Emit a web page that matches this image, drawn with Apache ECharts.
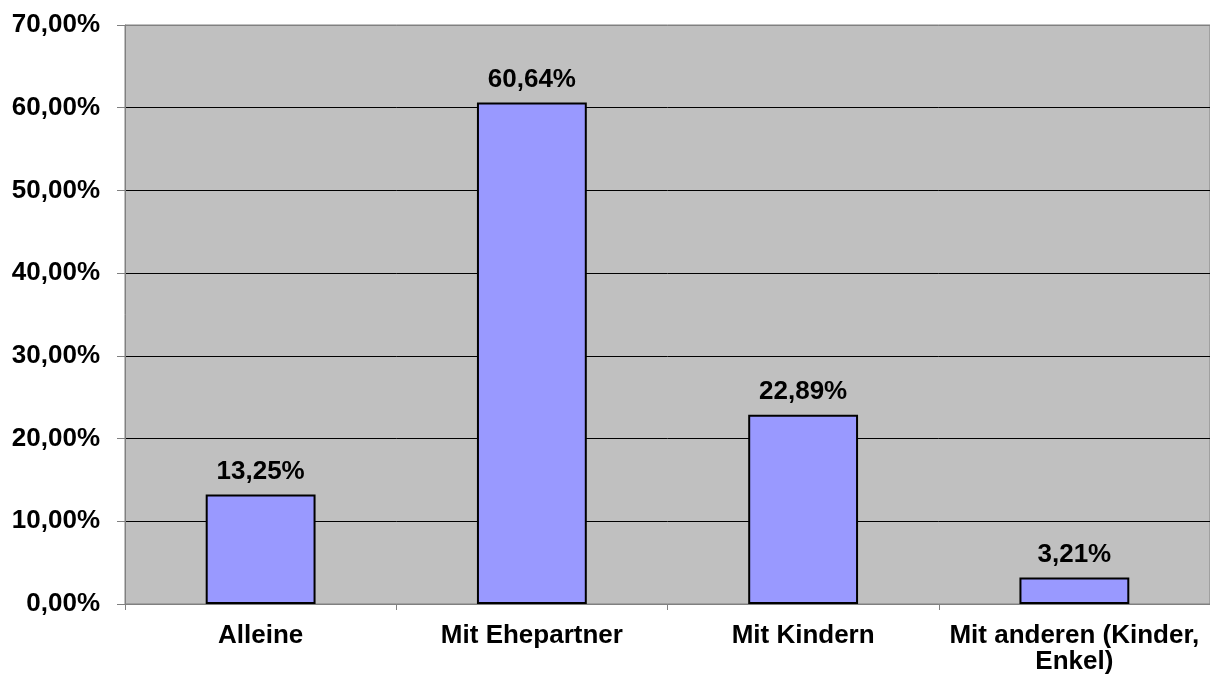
<!DOCTYPE html>
<html>
<head>
<meta charset="utf-8">
<script src="https://cdn.jsdelivr.net/npm/echarts@6/dist/echarts.min.js"></script>
<style>html,body{margin:0;padding:0;background:#fff}#c{width:1210px;height:679px}</style>
</head>
<body>
<div id="c"></div>
<script>
var categories = ['Alleine', 'Mit Ehepartner', 'Mit Kindern', 'Mit anderen (Kinder,\nEnkel)'];
var values = [13.25, 60.64, 22.89, 3.21];
var yTicks = [0, 10, 20, 30, 40, 50, 60, 70];

var font = 'Liberation Sans, Arial, sans-serif';
function fmt(v) { return v.toFixed(2).replace('.', ',') + '%'; }

var chart = echarts.init(document.getElementById('c'));
chart.setOption({
  animation: false,
  backgroundColor: '#ffffff',
  grid: {
    left: 125, right: 0, top: 25, bottom: 75,
    show: true, backgroundColor: '#C0C0C0', borderColor: '#808080', borderWidth: 1
  },
  xAxis: {
    type: 'category',
    data: categories,
    axisLine: { show: true, lineStyle: { color: '#808080', width: 1 } },
    axisTick: { show: true, alignWithLabel: false, length: 6, inside: false, lineStyle: { color: '#808080' } },
    axisLabel: {
      interval: 0, margin: 19, color: '#000', fontFamily: font, fontWeight: 'bold', fontSize: 26, lineHeight: 26
    },
    splitLine: { show: false }
  },
  yAxis: {
    type: 'value',
    min: yTicks[0], max: yTicks[yTicks.length - 1], interval: 10,
    axisLine: { show: true, lineStyle: { color: '#808080', width: 1 } },
    axisTick: { show: true, length: 8, lineStyle: { color: '#808080' } },
    axisLabel: {
      margin: 25, color: '#000', fontFamily: font, fontWeight: 'bold', fontSize: 26,
      formatter: function (v) { return fmt(v); }
    },
    splitLine: { show: true, lineStyle: { color: ['#808080', '#000', '#000', '#000', '#000', '#000', '#000', '#808080'], width: 1 } }
  },
  series: [{
    type: 'bar',
    data: values,
    barWidth: '40.5%',
    itemStyle: { color: '#9999FF', borderColor: '#000', borderWidth: 2 },
    label: {
      show: true, position: 'top', distance: 10, color: '#000', fontFamily: font, fontWeight: 'bold', fontSize: 26,
      formatter: function (p) { return fmt(p.value); }
    }
  }]
});
</script>
</body>
</html>
